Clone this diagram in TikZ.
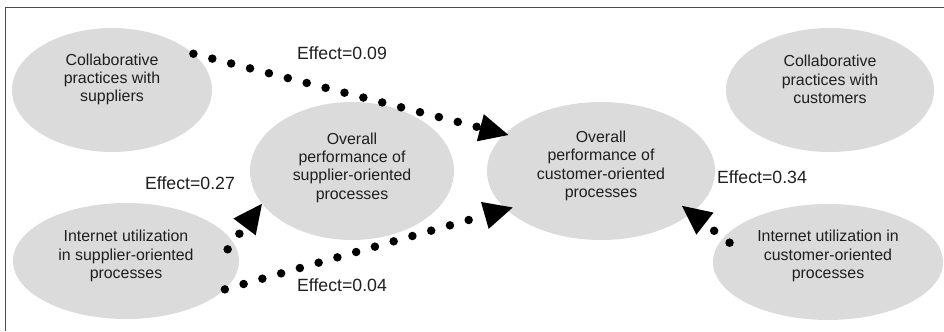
\documentclass[tikz,border=0pt]{standalone}
\usepackage{fontspec}
\setmainfont{Liberation Sans}
\usetikzlibrary{shapes.geometric,arrows.meta}
\definecolor{blobfill}{gray}{0.86}
\definecolor{inkgray}{gray}{0.12}
\definecolor{framegray}{gray}{0.3}
\tikzset{
  blob/.style={ellipse, fill=blobfill, draw=none, inner sep=0pt},
  blobtext/.style={align=center, text=inkgray, inner sep=0pt,
    font=\fontsize{15.9bp}{18.3bp}\selectfont},
  effect/.style={text=inkgray, inner sep=0pt,
    font=\fontsize{17.7bp}{21bp}\selectfont},
  conn/.style={line width=8.5bp, line cap=round, dash pattern=on 0bp off 19.5bp,
    -{Triangle[length=29bp,width=28bp,line width=0pt]}},
  frameline/.style={draw=framegray, line width=1.4bp}
}
\begin{document}
\begin{tikzpicture}[x=1bp,y=-1bp]
\useasboundingbox (0,0) rectangle (944,331);
% outer frame (left and top edges)
\draw[frameline] (5.5,331) -- (5.5,7.5) -- (944,7.5);

% constructs
\node[blob, minimum width=200bp, minimum height=124bp,
  label={[blobtext, yshift=10.5bp]center:Collaborative\\practices with\\suppliers}]
  (cs) at (112,90) {};
\node[blob, minimum width=204bp, minimum height=138bp,
  label={[blobtext, yshift=3.5bp]center:Overall\\performance of\\supplier-oriented\\processes}]
  (os) at (352,171) {};
\node[blob, minimum width=226bp, minimum height=116bp,
  label={[blobtext, yshift=5bp]center:Internet utilization\\in supplier-oriented\\processes}]
  (is) at (126,261) {};
\node[blob, minimum width=228bp, minimum height=138bp,
  label={[blobtext, yshift=5bp]center:Overall\\performance of\\customer-oriented\\processes}]
  (oc) at (601,171) {};
\node[blob, minimum width=208bp, minimum height=124bp,
  label={[blobtext, yshift=10.5bp]center:Collaborative\\practices with\\customers}]
  (cc) at (830,90) {};
\node[blob, minimum width=230bp, minimum height=116bp,
  label={[blobtext, yshift=6bp]center:Internet utilization in\\customer-oriented\\processes}]
  (ic) at (828,262) {};

% paths with their effects
\draw[conn, shorten >=-4bp] (cs.24) -- (oc.159.4);
\draw[conn, shorten <=-9bp] (is.10.5) -- (os.200.1);
\draw[conn, shorten >=-7bp] (is.-16.8) -- (oc.202);
\draw[conn, shorten <=-8bp, shorten >=-12bp] (ic.167.2) -- (oc.-25.1);

\node[effect] (e1) at (342,53) {Effect=0.09};
\node[effect] (e2) at (190,183) {Effect=0.27};
\node[effect] (e3) at (342,285) {Effect=0.04};
\node[effect] (e4) at (762,177) {Effect=0.34};
\end{tikzpicture}
\end{document}
